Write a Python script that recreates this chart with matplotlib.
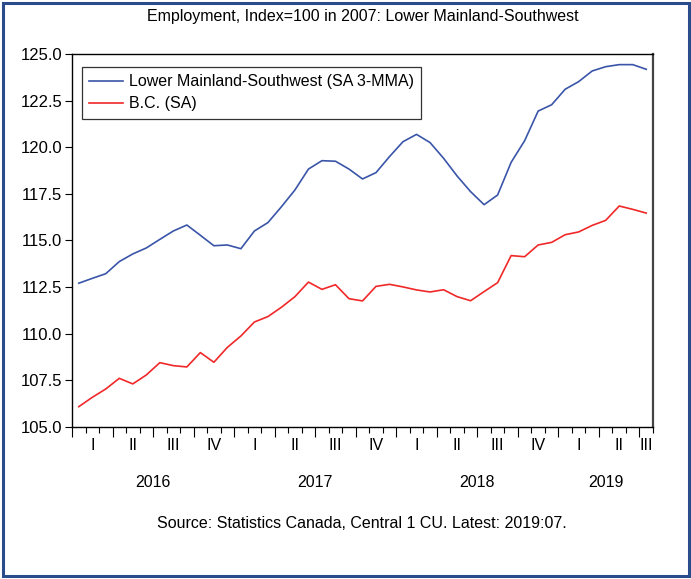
import matplotlib
matplotlib.use("Agg")
import matplotlib.pyplot as plt
from matplotlib.patches import Rectangle
from matplotlib.ticker import MultipleLocator, FixedLocator, NullFormatter
import numpy as np

plt.rcParams['font.family'] = ['Liberation Sans', 'DejaVu Sans']

title = "Employment, Index=100 in 2007: Lower Mainland-Southwest"
source = "Source: Statistics Canada, Central 1 CU. Latest: 2019:07."
series_names = ["Lower Mainland-Southwest (SA 3-MMA)", "B.C. (SA)"]
years = ["2016", "2017", "2018", "2019"]
quarters = ["I", "II", "III", "IV"]
start_year = 2016
n_months = 43  # 2016:01 .. 2019:07

lower_mainland = [112.71, 112.97, 113.22, 113.87, 114.28, 114.60, 115.06, 115.51, 115.83, 115.28,
                  114.72, 114.76, 114.56, 115.51, 115.96, 116.81, 117.71, 118.83, 119.28, 119.25,
                  118.83, 118.30, 118.64, 119.50, 120.30, 120.69, 120.25, 119.41, 118.46, 117.62,
                  116.92, 117.44, 119.19, 120.35, 121.94, 122.28, 123.11, 123.52, 124.09, 124.32,
                  124.43, 124.43, 124.18]
bc = [106.09, 106.59, 107.04, 107.61, 107.31, 107.79, 108.45, 108.29, 108.22, 108.99,
      108.47, 109.27, 109.88, 110.63, 110.92, 111.42, 111.99, 112.77, 112.38, 112.63,
      111.88, 111.76, 112.54, 112.65, 112.51, 112.35, 112.24, 112.36, 111.99, 111.77,
      112.26, 112.74, 114.19, 114.13, 114.76, 114.90, 115.31, 115.46, 115.81, 116.08,
      116.85, 116.67, 116.47]

W, H = 691, 579
fs = 11.5
fig = plt.figure(figsize=(W/100, H/100), dpi=100)
fig.patch.set_facecolor('white')

# outer blue frame
fig.patches.append(Rectangle((2.5/W, 3/H), (W-5)/W, (H-6)/H, transform=fig.transFigure,
                             fill=False, edgecolor='#2B4C8C', linewidth=2.2))

ax = fig.add_axes([72/W, 1-427/H, (653-72)/W, (427-54)/H])
x = np.arange(n_months) + 0.5
ax.plot(x, lower_mainland, color='#3A55A8', lw=1.2, label=series_names[0])
ax.plot(x, bc, color='#F02828', lw=1.2, label=series_names[1])

ax.set_xlim(0, n_months)
ax.set_ylim(105, 125)
ax.yaxis.set_major_locator(MultipleLocator(2.5))
ax.yaxis.set_major_formatter(matplotlib.ticker.FormatStrFormatter('%.1f'))
ax.tick_params(axis='y', direction='out', length=5, width=0.8, labelsize=12, pad=2)

# x ticks: month boundaries (minor), quarter boundaries (major)
ax.xaxis.set_major_locator(FixedLocator(np.arange(0, n_months + 1, 3)))
ax.xaxis.set_minor_locator(FixedLocator(np.arange(0, n_months + 1, 1)))
ax.xaxis.set_major_formatter(NullFormatter())
ax.tick_params(axis='x', which='major', direction='out', length=7, width=0.8)
ax.tick_params(axis='x', which='minor', direction='out', length=4, width=0.8)

# quarter labels
for q in range(int(np.ceil(n_months / 3))):
    s, e = q*3, min(q*3 + 3, n_months)
    ax.text((s+e)/2, -0.05, quarters[q % 4], transform=ax.get_xaxis_transform(),
            ha='center', va='center', fontsize=fs)
# year labels
for k, yr in enumerate(years):
    s, e = k*12, min(k*12 + 12, n_months)
    ax.text((s+e)/2, -0.15, yr, transform=ax.get_xaxis_transform(),
            ha='center', va='center', fontsize=fs)

for sp in ax.spines.values():
    sp.set_linewidth(1.0)
ax.spines['right'].set_color('#444444')
ax.spines['right'].set_linewidth(1.6)

leg = ax.legend(loc='upper left', bbox_to_anchor=(0.017, 0.965), frameon=True, fancybox=False,
                edgecolor='black', fontsize=fs, handlelength=2.1, handletextpad=0.4,
                borderpad=0.45, labelspacing=0.45, borderaxespad=0)
leg.get_frame().set_linewidth(0.9)

fig.text(363/W, 1-17/H, title, ha='center', va='center', fontsize=fs)
fig.text(362/W, 1-524/H, source, ha='center', va='center', fontsize=fs)

fig.savefig('out.png', dpi=100)
